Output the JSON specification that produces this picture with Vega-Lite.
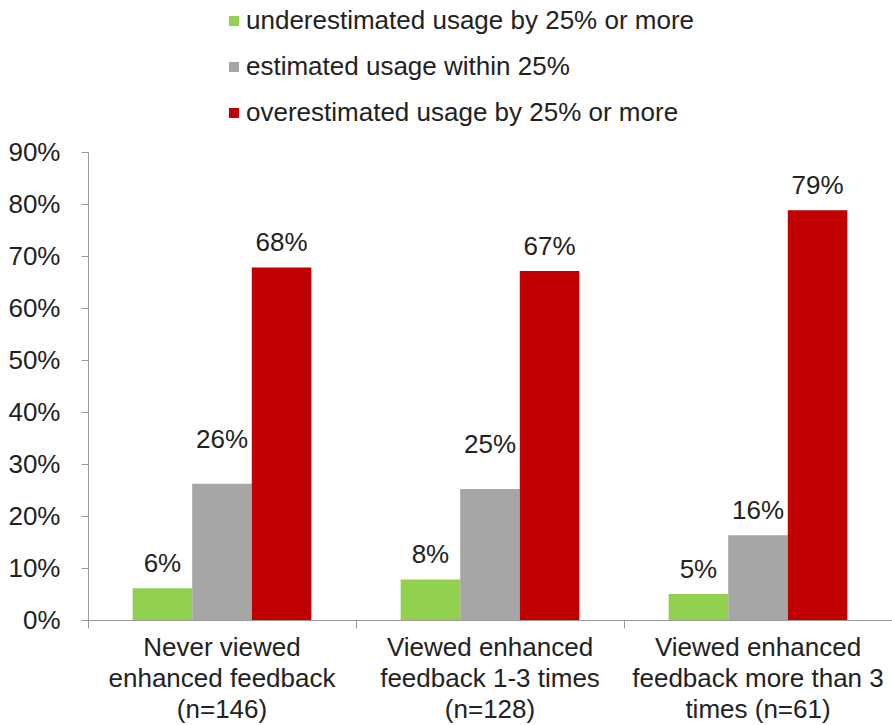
{
  "$schema": "https://vega.github.io/schema/vega-lite/v6.json",
  "width": 804,
  "height": 468,
  "autosize": {"type": "none"},
  "padding": {"left": 88, "top": 152, "right": 0, "bottom": 105},
  "background": "white",
  "config": {
    "view": {"stroke": null},
    "font": "Liberation Sans",
    "axis": {"labelFont": "Liberation Sans", "labelColor": "#222222", "domainColor": "#9a9a9a", "tickColor": "#9a9a9a", "grid": false, "title": null}
  },
  "data": {
    "values": [
      {"group": "Never viewed|enhanced feedback|(n=146)", "series": "underestimated usage by 25% or more", "value": 0.061},
      {"group": "Never viewed|enhanced feedback|(n=146)", "series": "estimated usage within 25%", "value": 0.262},
      {"group": "Never viewed|enhanced feedback|(n=146)", "series": "overestimated usage by 25% or more", "value": 0.678},
      {"group": "Viewed enhanced|feedback 1-3 times|(n=128)", "series": "underestimated usage by 25% or more", "value": 0.078},
      {"group": "Viewed enhanced|feedback 1-3 times|(n=128)", "series": "estimated usage within 25%", "value": 0.252},
      {"group": "Viewed enhanced|feedback 1-3 times|(n=128)", "series": "overestimated usage by 25% or more", "value": 0.671},
      {"group": "Viewed enhanced|feedback more than 3|times (n=61)", "series": "underestimated usage by 25% or more", "value": 0.05},
      {"group": "Viewed enhanced|feedback more than 3|times (n=61)", "series": "estimated usage within 25%", "value": 0.163},
      {"group": "Viewed enhanced|feedback more than 3|times (n=61)", "series": "overestimated usage by 25% or more", "value": 0.788}
    ]
  },
  "encoding": {
    "x": {
      "field": "group", "type": "nominal", "sort": null,
      "scale": {"paddingInner": 0, "paddingOuter": 0},
      "axis": {
        "labelAngle": 0, "labelFontSize": 26, "labelLineHeight": 31,
        "labelExpr": "split(datum.label, '|')", "labelBaseline": "top",
        "tickSize": 8, "labelPadding": 6, "bandPosition": 0, "labelBound": false, "labelOverlap": false, "labelLimit": 400
      }
    },
    "xOffset": {
      "field": "series", "type": "nominal",
      "sort": ["underestimated usage by 25% or more", "estimated usage within 25%", "overestimated usage by 25% or more"],
      "scale": {"paddingInner": 0, "paddingOuter": 0.75}
    },
    "y": {
      "field": "value", "type": "quantitative",
      "scale": {"domain": [0, 0.9], "nice": false},
      "axis": {"values": [0, 0.1, 0.2, 0.3, 0.4, 0.5, 0.6, 0.7, 0.8, 0.9], "format": ".0%", "labelFontSize": 26, "tickSize": 7, "labelPadding": 21}
    }
  },
  "layer": [
    {
      "mark": {"type": "bar"},
      "encoding": {
        "color": {
          "field": "series", "type": "nominal",
          "sort": ["underestimated usage by 25% or more", "estimated usage within 25%", "overestimated usage by 25% or more"],
          "scale": {"domain": ["underestimated usage by 25% or more", "estimated usage within 25%", "overestimated usage by 25% or more"], "range": ["#92D050", "#A6A6A6", "#C00000"]},
          "legend": {
            "title": null, "orient": "none", "legendX": 133, "legendY": -144,
            "direction": "vertical", "symbolType": "square", "symbolSize": 100,
            "symbolStrokeWidth": 0, "labelFontSize": 26, "labelFont": "Liberation Sans",
            "labelColor": "#222222", "labelOffset": -1, "rowPadding": 20, "padding": 0, "labelLimit": 700
          }
        }
      }
    },
    {
      "transform": [{"filter": "!(datum.series === 'estimated usage within 25%' && datum.value > 0.2)"}],
      "mark": {"type": "text", "dy": -16, "baseline": "alphabetic", "fontSize": 26, "font": "Liberation Sans", "color": "#222222"},
      "encoding": {
        "text": {"field": "value", "type": "quantitative", "format": ".0%"}
      }
    },
    {
      "transform": [{"filter": "datum.series === 'estimated usage within 25%' && datum.value > 0.2"}],
      "mark": {"type": "text", "dy": -36, "baseline": "alphabetic", "fontSize": 26, "font": "Liberation Sans", "color": "#222222"},
      "encoding": {
        "text": {"field": "value", "type": "quantitative", "format": ".0%"}
      }
    }
  ]
}
